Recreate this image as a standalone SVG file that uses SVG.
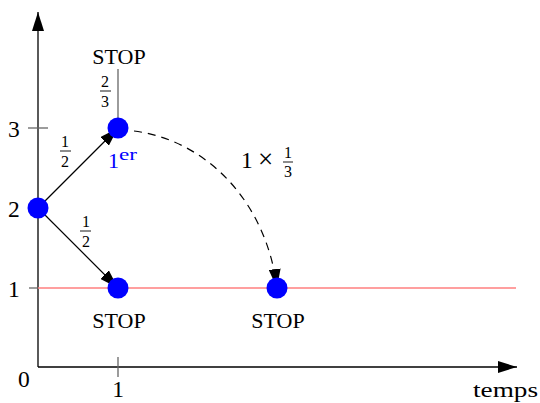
<svg xmlns="http://www.w3.org/2000/svg" width="540" height="403" viewBox="0 0 540 403">
<defs>
<marker id="ah" viewBox="0 0 19 12" refX="19" refY="6" markerWidth="19" markerHeight="12" markerUnits="userSpaceOnUse" orient="auto">
<path d="M0,0 L19,6 L0,12 z" fill="#000"/>
</marker>
</defs>
<style>
text{font-family:"Liberation Serif","Times New Roman",serif;fill:#000}
.num{font-size:23.5px}
.stop{font-size:22px;text-anchor:middle}
.fr{font-size:16px;text-anchor:middle}
.node{fill:#0000ff}
.ax{stroke:#000;stroke-width:1.3;fill:none}
.tick{stroke:#666;stroke-width:1.3}
.edge{stroke:#000;stroke-width:1.2;fill:none}
.frl{stroke:#000;stroke-width:0.9}
</style>
<g id="axes">
<line class="ax" x1="38" y1="367" x2="38" y2="12" marker-end="url(#ah)"/>
<line class="ax" x1="38" y1="367" x2="517" y2="367" marker-end="url(#ah)"/>
<line class="tick" x1="28" y1="128" x2="48" y2="128"/>
<line class="tick" x1="29" y1="288" x2="38" y2="288"/>
<line class="tick" x1="118" y1="357" x2="118" y2="377"/>
<text class="num" x="8" y="137">3</text>
<text class="num" x="8" y="217">2</text>
<text class="num" x="8" y="297">1</text>
<text class="num" x="18" y="387">0</text>
<text class="num" x="118" y="397" text-anchor="middle">1</text>
<text x="473" y="397" font-size="22" textLength="65" lengthAdjust="spacingAndGlyphs">temps</text>
</g>
<line id="redline" x1="38" y1="288" x2="516" y2="288" stroke="#ff7f7f" stroke-width="1.5"/>
<g id="connectors">
<line class="tick" x1="118" y1="128" x2="118" y2="69"/>
<line class="edge" x1="38" y1="208" x2="118" y2="128" marker-end="url(#ah)"/>
<line class="edge" x1="38" y1="208" x2="118" y2="288" marker-end="url(#ah)"/>
<path class="edge" d="M134,131 C205,140 266,200 277,288" stroke-dasharray="8,6" marker-end="url(#ah)"/>
</g>
<g id="n2"><circle class="node" cx="38" cy="208" r="10.5"/></g>
<g id="n3">
<circle class="node" cx="118" cy="128" r="10.5"/>
<text x="108" y="168" font-size="22" style="fill:#0000ff">1<tspan font-size="17" dy="-8" textLength="18" lengthAdjust="spacingAndGlyphs">er</tspan></text>
</g>
<g id="n1a">
<circle class="node" cx="118" cy="288" r="10.5"/>
<text class="stop" x="119" y="328">STOP</text>
</g>
<g id="n1b">
<circle class="node" cx="277" cy="288" r="10.5"/>
<text class="stop" x="278" y="328">STOP</text>
</g>
<g id="stopTop">
<text class="stop" x="119" y="64">STOP</text>
</g>
<g id="labels">
<text class="fr" x="105" y="87">2</text>
<line class="frl" x1="100" y1="91" x2="111" y2="91"/>
<text class="fr" x="105" y="107">3</text>
<text class="fr" x="65" y="147">1</text>
<line class="frl" x1="60" y1="151" x2="71" y2="151"/>
<text class="fr" x="65" y="167">2</text>
<text class="fr" x="86" y="227">1</text>
<line class="frl" x1="80" y1="231" x2="91" y2="231"/>
<text class="fr" x="86" y="247">2</text>
<text class="num" x="241" y="168">1</text>
<text x="258" y="168" font-size="27">×</text>
<text class="fr" x="288" y="158">1</text>
<line class="frl" x1="283" y1="162" x2="293" y2="162"/>
<text class="fr" x="288" y="177">3</text>
</g>
</svg>
